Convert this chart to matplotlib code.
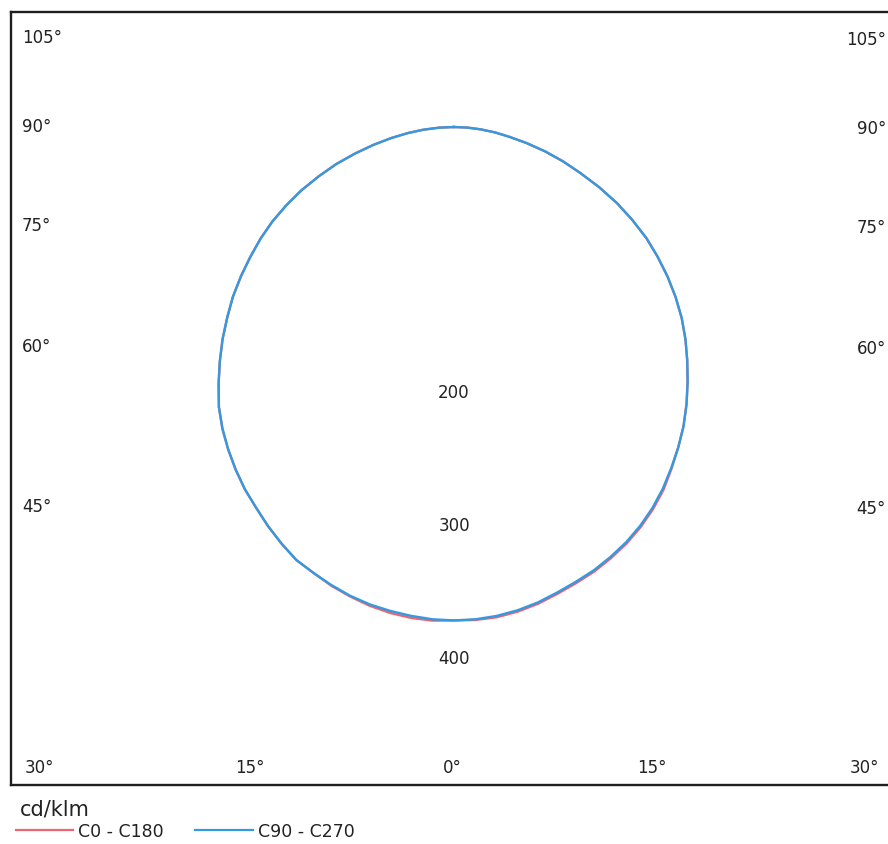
import numpy as np
import matplotlib.pyplot as plt

# photometric data, cd/klm, gamma angle from nadir (2.5 deg steps)
gamma = np.arange(0, 90.1, 2.5)
c0 = [371, 371, 370, 367.5, 364, 359.5, 355, 350.5, 345, 339, 332, 324, 315, 304.5, 294, 283.5,
      272, 260, 248, 236, 223.5, 210, 196, 181.5, 167, 151, 135, 118, 101, 86, 71, 56, 42, 31, 20, 10, 0]
c180 = [371, 371.5, 370.5, 368.5, 365.5, 361.5, 357, 351.5, 346.5, 339, 331, 322.5, 314.5, 305.5, 296, 286,
        275, 262, 249, 236, 222.5, 209.5, 195.5, 181.5, 168, 154, 139, 124, 108, 93, 77, 62, 48, 35, 23, 11, 0]
c90 = [371, 370.5, 369, 366.5, 363, 358.5, 354, 349.5, 344, 338, 331, 323, 314, 304, 294, 283.5,
       272, 260, 248, 236, 223.5, 210, 196, 181.5, 167, 151, 135, 118, 101, 86, 71, 56, 42, 31, 20, 10, 0]
c270 = [371, 370.5, 369, 367, 364.5, 361, 356.5, 351.5, 346.5, 339, 331, 322.5, 314.5, 305.5, 296, 286,
        275, 262, 249, 236, 222.5, 209.5, 195.5, 181.5, 168, 154, 139, 124, 108, 93, 77, 62, 48, 35, 23, 11, 0]

radial_ticks = [200, 300, 400]
angle_labels = ["105°", "90°", "75°", "60°", "45°"]
bottom_labels = ["30°", "15°", "0°", "15°", "30°"]
series_names = ["C0 - C180", "C90 - C270"]
red = "#ee6470"
blue = "#3399e0"

W, H = 888, 845
OX, OY = 454, 128      # light centre in pixels
SC = 1.33              # px per cd/klm

def px(x, y):
    # pixel position -> data coords
    return (x - OX) / SC, (OY - y) / SC

fig = plt.figure(figsize=(W / 100, H / 100), dpi=100)
left, top, right, bottom = 11, 13, 892, 786
ax = fig.add_axes([left / W, 1 - bottom / H, (right - left) / W, (bottom - top) / H])
x0, y1 = px(left, top)
x1, y0 = px(right, bottom)
ax.set_xlim(x0, x1)
ax.set_ylim(y0, y1)
ax.set_xticks([])
ax.set_yticks([])
for s in ax.spines.values():
    s.set_linewidth(1.7)
    s.set_color("#1e1e1e")


def curve(right_vals, left_vals):
    g = np.radians(gamma)
    r_right = np.array(right_vals)
    r_left = np.array(left_vals)
    xs = np.concatenate([-(r_left * np.sin(g))[::-1], (r_right * np.sin(g))[1:]])
    ys = np.concatenate([-(r_left * np.cos(g))[::-1], -(r_right * np.cos(g))[1:]])
    return xs, ys


xs, ys = curve(c0, c180)
ax.plot(xs, ys, color=red, lw=1.7, solid_joinstyle="round")
xs, ys = curve(c90, c270)
ax.plot(xs, ys, color=blue, lw=1.7, solid_joinstyle="round")

# radial value labels
for v in radial_ticks:
    ax.text(0, -v + 1, str(v), ha="center", va="center", fontsize=12, color="#222222")

# angle labels on the sides
side_y = [38, 127, 226, 347, 507]
for lab, yy in zip(angle_labels, side_y):
    ax.text(*px(22, yy), lab, ha="left", va="center", fontsize=12, color="#222222")
    ax.text(*px(886, yy + 2), lab, ha="right", va="center", fontsize=12, color="#222222")

bottom_x = [39, 250, 452, 652, 864]
for lab, xx in zip(bottom_labels, bottom_x):
    ax.text(*px(xx, 768), lab, ha="center", va="center", fontsize=12, color="#222222")

# legend
fig.text(20 / W, 1 - 810 / H, "cd/klm", ha="left", va="center", fontsize=15, color="#222222")
lx = [(16, 73, 78), (195, 253, 258)]
for (a, b, t), name, col in zip(lx, series_names, [red, blue]):
    fig.add_artist(plt.Line2D([a / W, b / W], [1 - 831 / H] * 2, color=col, lw=1.6))
    fig.text(t / W, 1 - 832 / H, name, ha="left", va="center", fontsize=12.5, color="#222222")

fig.savefig("out.png", dpi=100)
